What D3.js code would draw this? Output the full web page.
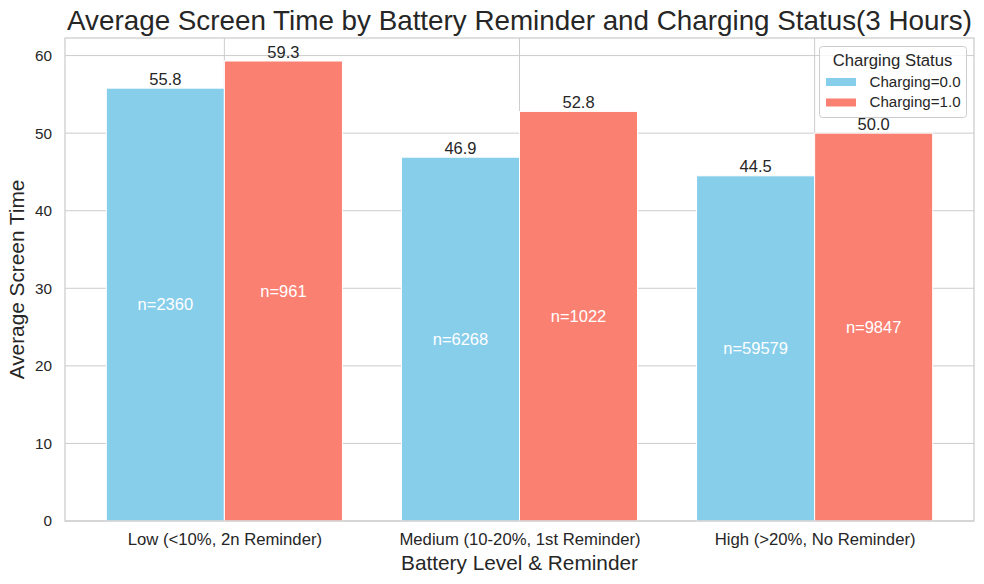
<!DOCTYPE html>
<html>
<head>
<meta charset="utf-8">
<script src="https://cdn.jsdelivr.net/npm/d3@7"></script>
<style>
  html, body { margin: 0; padding: 0; background: #fff; }
  svg text { font-family: "Liberation Sans", Arial, sans-serif; }
</style>
</head>
<body>
<svg id="chart" width="984" height="584"></svg>
<script>
const categories = ["Low (<10%, 2n Reminder)", "Medium (10-20%, 1st Reminder)", "High (>20%, No Reminder)"];
const seriesNames = ["Charging=0.0", "Charging=1.0"];
const charging0 = [55.8, 46.9, 44.5];
const charging1 = [59.3, 52.8, 50.0];
const count0 = [2360, 6268, 59579];
const count1 = [961, 1022, 9847];
const yTicks = [0, 10, 20, 30, 40, 50, 60];
const colors = ["#87CEEB", "#FA8072"];
const textColor = "#262626";
const gridColor = "#cccccc";

const svg = d3.select("#chart");
const pL = 65, pR = 974, pT = 38, pB = 521;
const barW = 0.4;

const yMax = d3.max(charging1.concat(charging0)) * 1.05;
const y = d3.scaleLinear().domain([0, yMax]).range([pB, pT]);
const span = categories.length - 1 + 2 * barW;
const x = d3.scaleLinear().domain([-barW - 0.05 * span, categories.length - 1 + barW + 0.05 * span]).range([pL, pR]);

// grid
const g = svg.append("g");
g.selectAll("line.hg").data(yTicks).enter().append("line")
  .attr("x1", pL).attr("x2", pR)
  .attr("y1", d => y(d)).attr("y2", d => y(d))
  .attr("stroke", gridColor).attr("stroke-width", 1);
g.selectAll("line.vg").data(categories.map((c, i) => i)).enter().append("line")
  .attr("x1", d => x(d)).attr("x2", d => x(d))
  .attr("y1", pT).attr("y2", pB)
  .attr("stroke", gridColor).attr("stroke-width", 1);

// bars
const series = [
  { vals: charging0, counts: count0, off: -barW, color: colors[0] },
  { vals: charging1, counts: count1, off: 0, color: colors[1] }
];
series.forEach(s => {
  const data = s.vals.map((v, i) => ({ v, i, n: s.counts[i] }));
  svg.append("g").selectAll("rect").data(data).enter().append("rect")
    .attr("x", d => x(d.i + s.off))
    .attr("width", d => x(d.i + s.off + barW) - x(d.i + s.off))
    .attr("y", d => y(d.v))
    .attr("height", d => y(0) - y(d.v))
    .attr("fill", s.color)
    .attr("stroke", "#ffffff").attr("stroke-width", 1);
  svg.append("g").selectAll("text").data(data).enter().append("text")
    .attr("x", d => x(d.i + s.off + barW / 2))
    .attr("y", d => y(d.v) - 3.5)
    .attr("text-anchor", "middle")
    .attr("font-size", "16.5px")
    .attr("fill", textColor)
    .text(d => d.v.toFixed(1));
  svg.append("g").selectAll("text").data(data).enter().append("text")
    .attr("x", d => x(d.i + s.off + barW / 2))
    .attr("y", d => y(d.v / 2))
    .attr("dy", "0.35em")
    .attr("text-anchor", "middle")
    .attr("font-size", "16.5px")
    .attr("fill", "#ffffff")
    .text(d => "n=" + d.n);
});

// spines
svg.append("rect").attr("x", pL).attr("y", pT)
  .attr("width", pR - pL).attr("height", pB - pT)
  .attr("fill", "none").attr("stroke", gridColor).attr("stroke-width", 1.25);

// axes
const yAxis = d3.axisLeft(y).tickValues(yTicks).tickSize(0).tickPadding(13);
const ya = svg.append("g").attr("transform", `translate(${pL},0)`).call(yAxis);
ya.select(".domain").remove();
ya.selectAll("text").attr("font-size", "15.3px").attr("fill", textColor)
  .style("font-family", '"Liberation Sans", Arial, sans-serif');

const xAxis = d3.axisBottom(x).tickValues(categories.map((c, i) => i))
  .tickFormat(i => categories[i]).tickSize(0).tickPadding(12);
const xa = svg.append("g").attr("transform", `translate(0,${pB})`).call(xAxis);
xa.select(".domain").remove();
xa.selectAll("text").attr("font-size", "16.7px").attr("fill", textColor)
  .style("font-family", '"Liberation Sans", Arial, sans-serif');

// titles
svg.append("text").attr("x", (pL + pR) / 2).attr("y", 29.5)
  .attr("text-anchor", "middle").attr("font-size", "27.8px").attr("fill", textColor)
  .text("Average Screen Time by Battery Reminder and Charging Status(3 Hours)");
svg.append("text").attr("x", (pL + pR) / 2).attr("y", 570)
  .attr("text-anchor", "middle").attr("font-size", "20.8px").attr("fill", textColor)
  .text("Battery Level & Reminder");
svg.append("text")
  .attr("transform", `translate(23.5,${(pT + pB) / 2}) rotate(-90)`)
  .attr("text-anchor", "middle").attr("font-size", "20.8px").attr("fill", textColor)
  .text("Average Screen Time");

// legend
const lg = svg.append("g");
lg.append("rect").attr("x", 819.5).attr("y", 46.5).attr("width", 147).attr("height", 71)
  .attr("rx", 3).attr("fill", "#ffffff").attr("fill-opacity", 0.8)
  .attr("stroke", gridColor).attr("stroke-width", 1);
lg.append("text").attr("x", 892.5).attr("y", 65.5).attr("text-anchor", "middle")
  .attr("font-size", "16.7px").attr("fill", textColor).text("Charging Status");
seriesNames.forEach((name, i) => {
  lg.append("rect").attr("x", 826).attr("y", 78 + i * 20.5).attr("width", 30).attr("height", 8)
    .attr("fill", colors[i]);
  lg.append("text").attr("x", 869.5).attr("y", 86.5 + i * 20.5)
    .attr("font-size", "15.1px").attr("fill", textColor).text(name);
});
</script>
</body>
</html>
